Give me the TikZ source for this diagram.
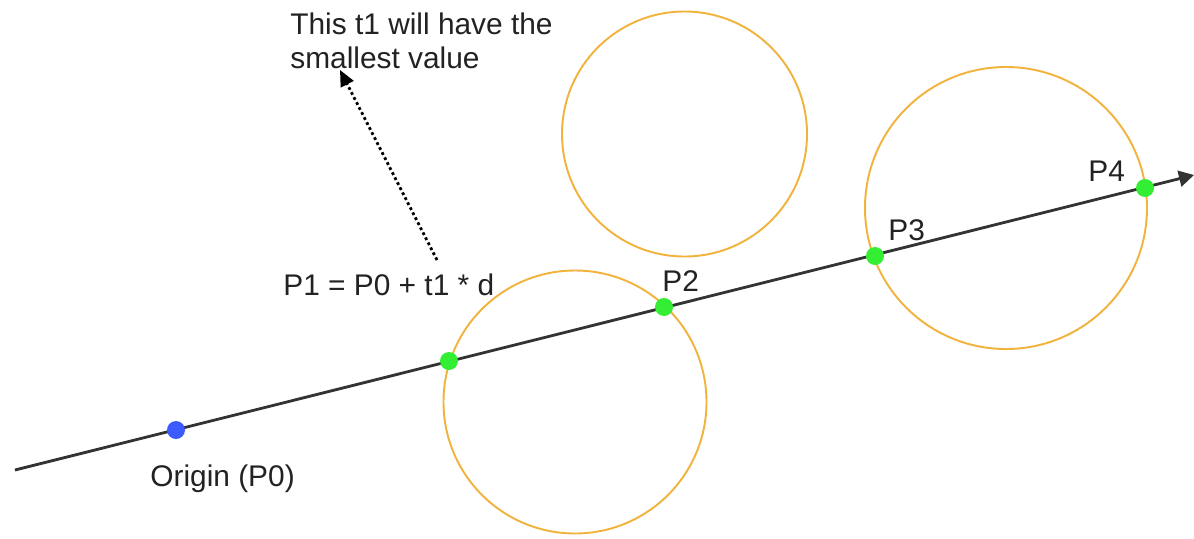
\documentclass[tikz,border=0pt]{standalone}
\usepackage{fontspec}
\setmainfont{Liberation Sans}
\usepackage{tikz}
\usetikzlibrary{arrows.meta}
\definecolor{RTInk}{HTML}{333333}
\definecolor{RTText}{HTML}{222222}
\definecolor{RTRing}{HTML}{F2B33D}
\definecolor{RTHit}{HTML}{33EE33}
\definecolor{RTOrigin}{HTML}{3D5AFE}
\tikzset{
  ray/.style={-{Triangle[length=3.0mm,width=3.2mm]},RTInk,line width=1.6pt},
  hint/.style={-{Triangle[length=3.2mm,width=2.8mm]},black,line width=1.6pt,
               dash pattern=on 1.6pt off 1.6pt},
  ring/.style={draw=RTRing,line width=1.1pt},
  hit/.style={circle,fill=RTHit,inner sep=0pt,minimum size=3.6mm},
  origin/.style={hit,fill=RTOrigin},
  note/.style={text=RTText,font=\fontsize{17}{18.8}\selectfont,inner sep=0pt,
               align=left,anchor=base west},
}

\begin{document}
\begin{tikzpicture}[x=0.02cm,y=-0.02cm]
  \useasboundingbox (0,0) rectangle (1194,538);

  % spheres
  \draw[ring] (575,402) circle (131.5);
  \draw[ring] (684.5,134) circle (122.5);
  \draw[ring] (1006,208) circle (141);

  % the ray
  \coordinate (start) at (15,470);
  \coordinate (end) at (1194,175);
  \draw[ray] (start) -- (end);

  \node[origin] (p0) at (176,430) {};
  \node[hit] (p1) at (449,361) {};
  \node[hit] (p2) at (664,307) {};
  \node[hit] (p3) at (875,256) {};
  \node[hit] (p4) at (1145,188) {};

  \node[note] (p0lbl) at (150,486) {Origin (P0)};
  \node[note] (p1lbl) at (283,295) {P1 = P0 + t1 * d};
  \node[note] (p2lbl) at (662,291) {P2};
  \node[note] (p3lbl) at (888,240) {P3};
  \node[note] (p4lbl) at (1088,181) {P4};

  \node[note] (remark) at (290,68) {This t1 will have the\\smallest value};

  \coordinate (tail) at (437,260);
  \coordinate (tip) at (340,70);
  \draw[hint] (tail) -- (tip);
\end{tikzpicture}
\end{document}
